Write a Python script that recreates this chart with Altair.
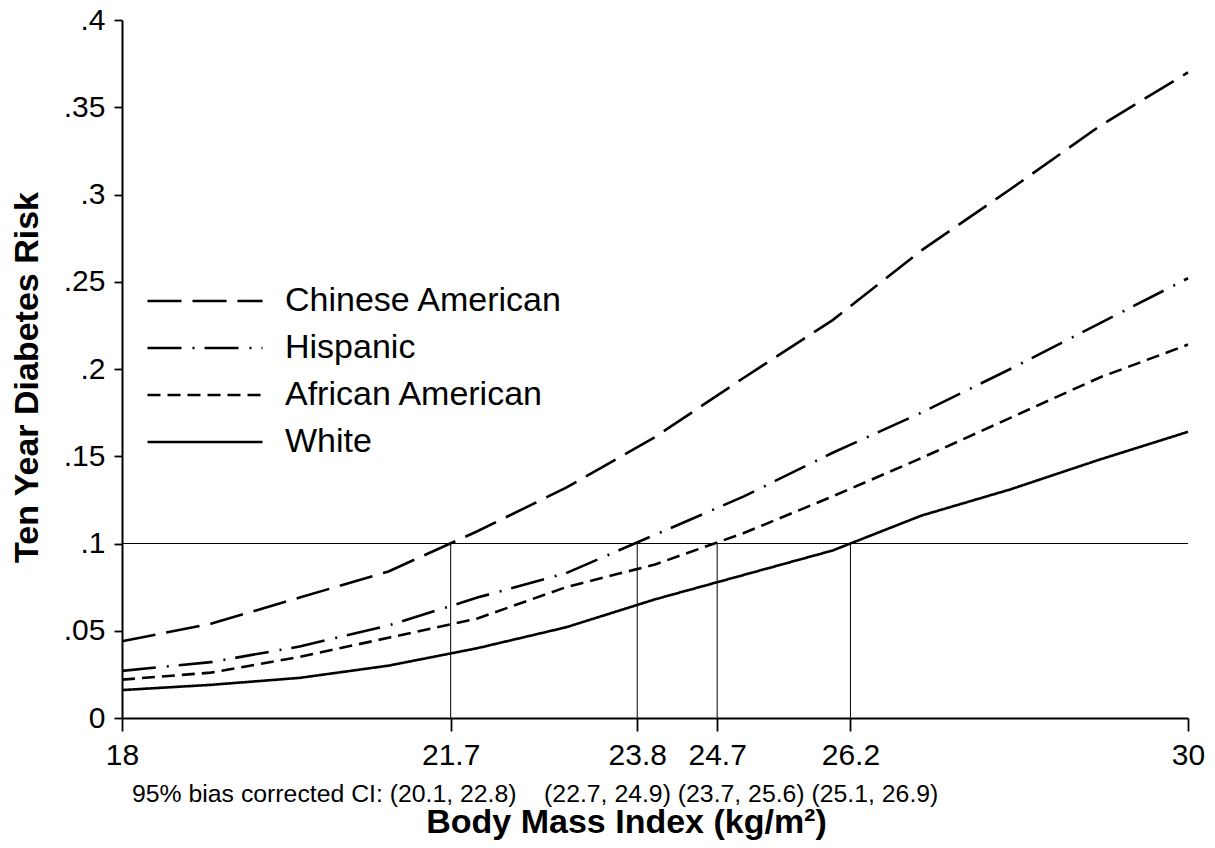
import altair as alt
import pandas as pd

bmi = [18, 19, 20, 21, 22, 23, 24, 25, 26, 27, 28, 29, 30]
chinese = [0.044, 0.054, 0.069, 0.084, 0.107, 0.132, 0.161, 0.195, 0.228, 0.268, 0.303, 0.339, 0.370]
hispanic = [0.027, 0.032, 0.041, 0.053, 0.069, 0.083, 0.105, 0.127, 0.152, 0.175, 0.200, 0.226, 0.252]
african = [0.022, 0.026, 0.035, 0.046, 0.057, 0.075, 0.088, 0.106, 0.127, 0.149, 0.172, 0.195, 0.214]
white = [0.016, 0.019, 0.023, 0.030, 0.040, 0.052, 0.068, 0.082, 0.096, 0.116, 0.131, 0.148, 0.164]

groups = ["Chinese American", "Hispanic", "African American", "White"]
dashes = [[34, 11], [34, 11, 2, 10], [13, 7], [1, 0]]

cut_bmi = [21.7, 23.8, 24.7, 26.2]
risk_threshold = 0.1
x_ticks = [18, 21.7, 23.8, 24.7, 26.2, 30]
y_ticks = [0, 0.05, 0.1, 0.15, 0.2, 0.25, 0.3, 0.35, 0.4]
NB = "\u00a0"
ci_text = "95% bias corrected CI: (20.1, 22.8)" + NB * 4 + "(22.7, 24.9) (23.7, 25.6) (25.1, 26.9)"

rows = []
for g, vals in zip(groups, [chinese, hispanic, african, white]):
    for b, v in zip(bmi, vals):
        rows.append({"bmi": b, "risk": v, "group": g})
df = pd.DataFrame(rows)

FONT = "Liberation Sans"
W, H = 1066, 698

xscale = alt.Scale(domain=[18, 30], nice=False, zero=False)
yscale = alt.Scale(domain=[0, 0.4], nice=False)

lines = alt.Chart(df).mark_line(color="black", strokeWidth=2.6).encode(
    x=alt.X("bmi:Q", scale=xscale,
            axis=alt.Axis(values=x_ticks, format=".1~f", title="Body Mass Index (kg/m²)",
                          labelFontSize=30, titleFontSize=34, titleFontWeight="bold",
                          tickSize=13, labelPadding=9,
                          titleX=504, titleY=114, titleBaseline="alphabetic",
                          labelFlush=False, grid=False)),
    y=alt.Y("risk:Q", scale=yscale,
            axis=alt.Axis(values=y_ticks,
                          labelExpr="datum.value == 0 ? '0' : substring(format(datum.value, '.2~f'), 1)",
                          title="Ten Year Diabetes Risk", labelFontSize=30, titleFontSize=34,
                          titleFontWeight="bold", tickSize=8, labelPadding=9,
                          titleX=-95, titleY=357, titleBaseline="middle", titleAngle=270,
                          grid=False)),
    strokeDash=alt.StrokeDash("group:N", scale=alt.Scale(domain=groups, range=dashes),
                              legend=alt.Legend(title=None, orient="none", legendX=66, legendY=264,
                                                symbolType="M-5,0H5", symbolSize=529,
                                                symbolStrokeWidth=2.6, symbolStrokeColor="black",
                                                symbolFillColor="transparent",
                                                labelFontSize=34, labelOffset=63, rowPadding=13,
                                                labelLimit=0, labelFont=FONT, labelColor="black")),
    detail="group:N",
)

hrule = alt.Chart(pd.DataFrame({"y": [risk_threshold]})).mark_rule(color="black", strokeWidth=1.2).encode(
    y=alt.Y("y:Q", scale=yscale), x=alt.datum(18), x2=alt.datum(30)
)

vrule = alt.Chart(pd.DataFrame({"x": cut_bmi})).mark_rule(color="black", strokeWidth=1).encode(
    x=alt.X("x:Q", scale=xscale), y=alt.datum(0), y2=alt.datum(risk_threshold)
)

ci = alt.Chart(pd.DataFrame({"t": [ci_text]})).mark_text(
    align="left", baseline="alphabetic", fontSize=24.8, font=FONT, color="black", dx=10
).encode(x=alt.datum(18), y=alt.value(H + 84), text="t:N")

chart = alt.layer(hrule, vrule, lines, ci).properties(
    width=W, height=H,
    autosize=alt.AutoSizeParams(type="none"),
    padding={"left": 114, "top": 12, "right": 19, "bottom": 122},
).configure_view(stroke=None).configure_axis(
    domainColor="black", tickColor="black", labelColor="black", titleColor="black",
    labelFont=FONT, titleFont=FONT, domainWidth=2, tickWidth=1.8
)

chart.save("out.html", embed_options={"renderer": "svg", "actions": False})
